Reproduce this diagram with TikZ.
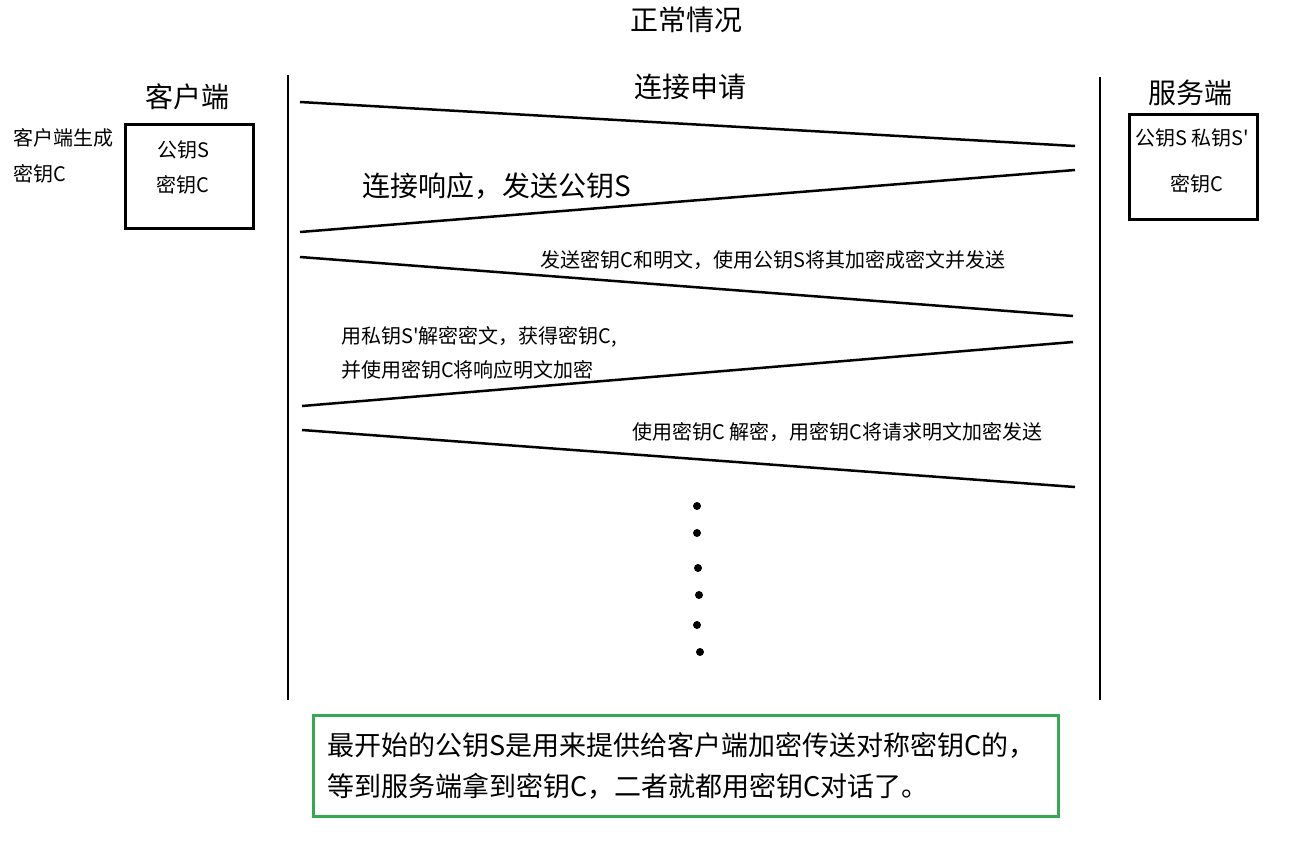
\documentclass[tikz,border=0pt]{standalone}
\usepackage{fontspec}
\setmainfont{Noto Sans CJK SC}[Ligatures=TeXOff]
\usetikzlibrary{positioning}
\definecolor{notegreen}{RGB}{52,168,83}
\tikzset{
  lifeline/.style={line width=2.5pt},
  msgline/.style={line width=2.5pt},
  keybox/.style={draw, line width=3pt, minimum width=128pt, minimum height=104pt},
  bigtext/.style={font=\fontsize{28}{32}\selectfont, inner sep=0pt},
  smalltext/.style={font=\fontsize{20}{34}\selectfont, inner sep=0pt, align=left},
  dotmark/.style={circle, fill=black, inner sep=0pt, minimum size=8pt},
  notebox/.style={draw=notegreen, line width=3pt, minimum width=745pt, minimum height=101pt,
    text width=717pt, align=left, inner sep=0pt, font=\fontsize{27}{41}\selectfont}
}
\begin{document}
\begin{tikzpicture}[x=1pt, y=-1pt]
  \useasboundingbox (0,0) rectangle (1289,851);
  % titles
  \node[bigtext] (title) at (686,20) {正常情况};
  \node[bigtext] (client) at (187,97) {客户端};
  \node[bigtext] (server) at (1190,93) {服务端};
  \node[bigtext] (req) at (690,87) {连接申请};
  % lifelines
  \coordinate (cTop) at (288,75);
  \coordinate (cBot) at (288,700);
  \coordinate (sTop) at (1100,77);
  \coordinate (sBot) at (1100,700);
  \draw[lifeline] (cTop) -- (cBot);
  \draw[lifeline] (sTop) -- (sBot);
  % key boxes
  \node[keybox] (cbox) at (189,176) {};
  \node[smalltext] (cpub) at (183,150) {公钥S};
  \node[smalltext] (ckey) at (183,185) {密钥C};
  \node[smalltext, anchor=west] (cgen) at (13,138) {客户端生成};
  \node[smalltext, anchor=west] (cgenkey) at (13,174) {密钥C};
  \node[keybox, minimum height=105pt] (sbox) at (1193,166.5) {};
  \node[smalltext] (spub) at (1192,138) {公钥S 私钥S'};
  \node[smalltext] (skey) at (1197,184) {密钥C};
  % messages
  \coordinate (c1) at (300,102);  \coordinate (s1) at (1075,146);
  \coordinate (s2) at (1075,170); \coordinate (c2) at (300,232);
  \coordinate (c3) at (300,257);  \coordinate (s3) at (1073,316);
  \coordinate (s4) at (1073,342); \coordinate (c4) at (302,406);
  \coordinate (c5) at (302,430);  \coordinate (s5) at (1075,487);
  \draw[msgline] (c1) -- (s1);
  \draw[msgline] (s2) -- (c2);
  \draw[msgline] (c3) -- (s3);
  \draw[msgline] (s4) -- (c4);
  \draw[msgline] (c5) -- (s5);
  \node[bigtext] (resp) at (497,186) {连接响应，发送公钥S};
  \node[smalltext] (send) at (773,260) {发送密钥C和明文，使用公钥S将其加密成密文并发送};
  \node[smalltext, anchor=west] (decrypt) at (341,353) {用私钥S'解密密文，获得密钥C,\\并使用密钥C将响应明文加密};
  \node[smalltext] (talk) at (837,432) {使用密钥C 解密，用密钥C将请求明文加密发送};
  % dots
  \foreach \px/\py [count=\i] in {697/506, 697/533, 698/568, 699/595, 697/625, 700/652}
    \node[dotmark] (dot\i) at (\px,\py) {};
  % note
  \node[notebox] (note) at (685.5,765.5) {最开始的公钥S是用来提供给客户端加密传送对称密钥C的，\\等到服务端拿到密钥C，二者就都用密钥C对话了。};
\end{tikzpicture}
\end{document}
